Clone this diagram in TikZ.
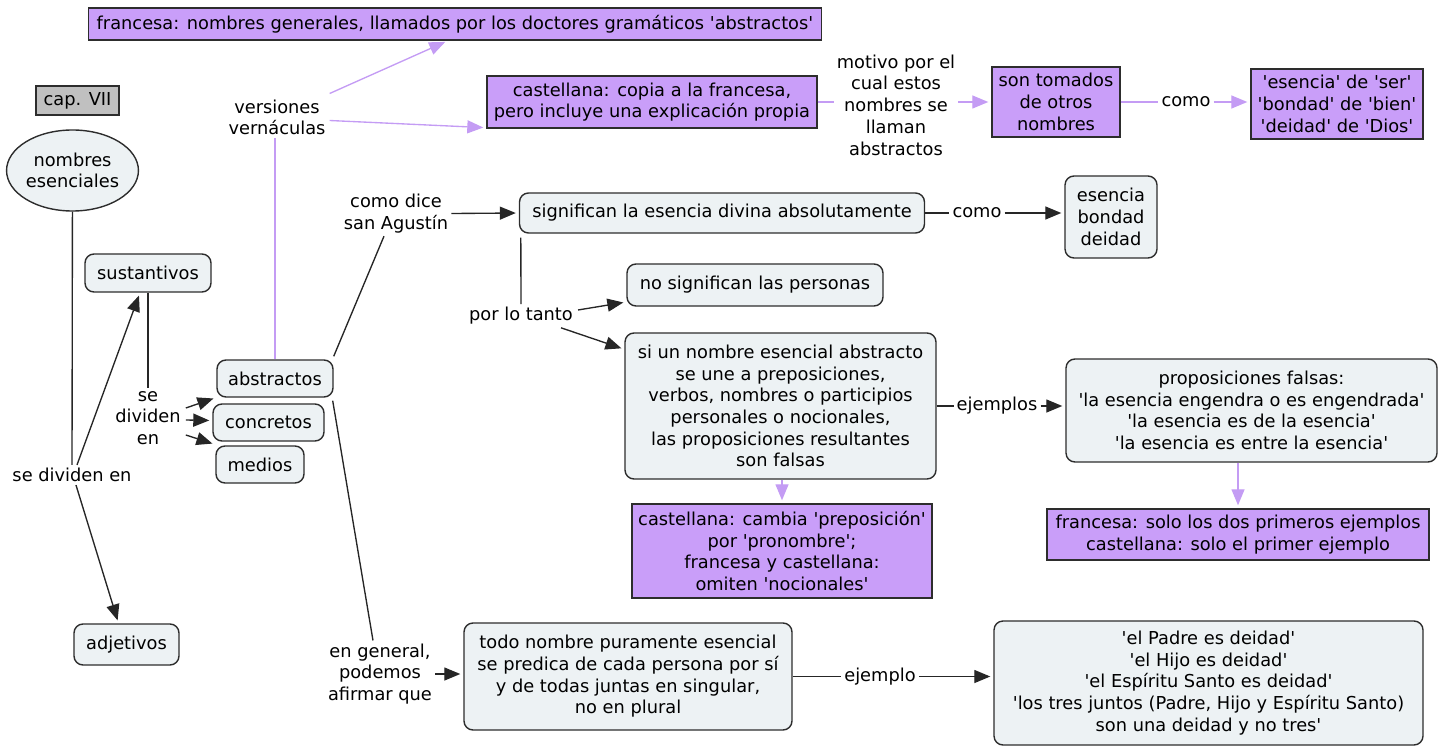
\documentclass[tikz,border=0pt]{standalone}
\usepackage{fontspec}
\setmainfont{DejaVu Sans}[Ligatures=TeXOff]
\usetikzlibrary{arrows.meta,shapes.geometric,calc}
\definecolor{lav}{RGB}{201,158,249}
\definecolor{lavline}{RGB}{196,156,244}
\definecolor{pale}{RGB}{237,242,244}
\definecolor{edge}{RGB}{45,45,45}
\definecolor{capgray}{RGB}{192,192,192}
\begin{document}
\begin{tikzpicture}[x=1pt,y=-1pt,
  font=\fontsize{17.8}{21.7}\selectfont,
  concept/.style={draw=edge, line width=1.4pt, fill=pale, rounded corners=9pt,
    align=center, inner xsep=4pt, inner ysep=2pt},
  vnote/.style={draw=edge, line width=1.4pt, fill=lav, align=center, inner xsep=4pt, inner ysep=2pt},
  link/.style={align=center, inner sep=3pt},
  conn/.style={line width=1.35pt, draw=black!85},
  arr/.style={conn, -{Triangle[length=16pt,width=13pt]}, shorten >=3pt},
  vconn/.style={line width=1.35pt, draw=lavline},
  varr/.style={vconn, -{Triangle[length=16pt,width=13pt]}, shorten >=3pt}]
\useasboundingbox (0,0) rectangle (1447,746);

% header and main concept
\node[vnote, anchor=west, minimum height=32pt, inner xsep=8pt] (fr) at (88,24)
  {francesa: nombres generales, llamados por los doctores gramáticos 'abstractos'};
\node[draw=edge, line width=1.4pt, fill=capgray, minimum width=83pt, minimum height=29pt, inner sep=0pt] (cap) at (77.5,100.5) {cap. VII};
\node[ellipse, draw=edge, line width=1.4pt, fill=pale, minimum width=131pt, minimum height=81pt, inner sep=0pt, align=center] (ne) at (72.5,170.5) {nombres\\esenciales};

% vernacular versions
\node[link] (vers) at (277,117.5) {versiones\\vernáculas};
\node[vnote, minimum width=330pt, minimum height=52pt] (cast) at (652,102) {castellana: copia a la francesa,\\pero incluye una explicación propia};
\node[link] (mot) at (896,105) {motivo por el\\cual estos\\nombres se\\llaman\\abstractos};
\node[vnote, minimum width=128pt, minimum height=70pt] (tom) at (1056,102) {son tomados\\de otros\\nombres};
\node[link] (como1) at (1186,102) {como};
\node[vnote, minimum width=172pt, minimum height=70pt] (ser) at (1337,104) {'esencia' de 'ser'\\'bondad' de 'bien'\\'deidad' de 'Dios'};

% divisions
\node[link] (sdiv) at (72,475) {se dividen en};
\node[concept, minimum width=126pt, minimum height=38pt] (sust) at (148,273) {sustantivos};
\node[link] (sdiv2) at (148,418) {se\\dividen\\en};
\node[concept, minimum width=116pt, minimum height=37pt] (abs) at (275,378.5) {abstractos};
\node[concept, minimum width=111pt, minimum height=37pt] (conc) at (268.5,422.5) {concretos};
\node[concept, minimum width=88pt, minimum height=37pt] (med) at (260,464.5) {medios};
\node[concept, minimum width=105pt, minimum height=41pt] (adj) at (126.5,644.5) {adjetivos};

% what the abstract names signify
\node[link] (agus) at (396,213.5) {como dice\\san Agustín};
\node[concept, minimum width=405pt, minimum height=40pt] (sig) at (722,213) {significan la esencia divina absolutamente};
\node[link] (como2) at (977,213) {como};
\node[concept, minimum width=92pt, minimum height=82pt] (ese) at (1111,217) {esencia\\bondad\\deidad};
\node[link] (plt) at (521,316) {por lo tanto};
\node[concept, minimum width=256pt, minimum height=42pt] (nosig) at (755,285) {no significan las personas};
\node[concept, minimum width=311pt, minimum height=146pt] (si) at (780.5,406)
  {si un nombre esencial abstracto\\se une a preposiciones,\\verbos, nombres o participios\\personales o nocionales,\\las proposiciones resultantes\\son falsas};
\node[link] (ejm) at (997,406) {ejemplos};
\node[concept, minimum width=371pt, minimum height=103pt] (prop) at (1251.5,410.5)
  {proposiciones falsas:\\'la esencia engendra o es engendrada'\\'la esencia es de la esencia'\\'la esencia es entre la esencia'};
\node[vnote, minimum width=382pt, minimum height=51pt] (frsolo) at (1238,534.5)
  {francesa: solo los dos primeros ejemplos\\castellana: solo el primer ejemplo};
\node[vnote, minimum width=300pt, minimum height=94pt] (cast2) at (782,551)
  {castellana: cambia 'preposición'\\por 'pronombre';\\francesa y castellana:\\omiten 'nocionales'};

% predication
\node[link] (engen) at (380,674) {en general,\\podemos\\afirmar que};
\node[concept, minimum width=328pt, minimum height=107pt] (todo) at (628,676.5)
  {todo nombre puramente esencial\\se predica de cada persona por sí\\y de todas juntas en singular,\\no en plural};
\node[link] (ejm2) at (880,676.5) {ejemplo};
\node[concept, minimum width=429pt, minimum height=124pt] (padre) at (1208.5,683)
  {'el Padre es deidad'\\'el Hijo es deidad'\\'el Espíritu Santo es deidad'\\'los tres juntos (Padre, Hijo y Espíritu Santo)\\son una deidad y no tres'};

% black connectors
\draw[conn] (ne) -- (sdiv);
\draw[arr] ($(sdiv.north)+(5,0)$) -- ($(sust.south)+(-8,0)$);
\draw[arr] ($(sdiv.south)+(4,0)$) -- ($(adj.north)+(-8,0)$);
\draw[conn] (sust) -- (sdiv2);
\draw[arr] ($(sdiv2.east)+(2,-10)$) -- ($(abs.west)+(0,19)$);
\draw[arr] ($(sdiv2.east)+(2,2)$) -- ($(conc.west)+(0,-2)$);
\draw[arr] ($(sdiv2.east)+(2,17)$) -- ($(med.west)+(0,-20)$);
\draw[conn] ($(abs.north east)+(0,-3)$) -- ($(agus.south)+(-12,0)$);
\draw[arr] (agus.east) -- (sig.west);
\draw[conn] (sig.east) -- (como2.west);
\draw[arr] (como2.east) -- (como2.east -| ese.west);
\draw[conn] ($(sig.south west)+(2,4)$) -- (plt.north);
\draw[arr] ($(plt.east)+(2,-6)$) -- ($(nosig.west)+(0,17)$);
\draw[arr] ($(plt.south east)+(-15,0)$) -- ($(si.north west)+(0,17)$);
\draw[conn] (si.east) -- (ejm.west);
\draw[arr] (ejm.east) -- (ejm.east -| prop.west);
\draw[conn] ($(abs.south east)+(-1,3)$) -- ($(engen.north)+(-7,0)$);
\draw[arr] (engen.east) -- (engen.east -| todo.west);
\draw[conn] (todo.east) -- (ejm2.west);
\draw[arr] (ejm2.east) -- (ejm2.east -| padre.west);

% lavender connectors
\draw[vconn] (abs.north) -- (abs.north |- vers.south);
\draw[varr] ($(vers.east)+(1,-24)$) -- ($(fr.south west)+(360,0)$);
\draw[varr] ($(vers.east)+(1,3)$) -- ($(cast.south west)+(0,-1)$);
\draw[vconn] (cast.east) -- (cast.east -| mot.west);
\draw[varr] (mot.east |- tom.west) -- (tom.west);
\draw[vconn] (tom.east) -- (tom.east -| como1.west);
\draw[varr] (como1.east) -- (como1.east -| ser.west);
\draw[varr] (si.south -| cast2.north) -- (cast2.north);
\draw[varr] (prop.south -| frsolo.north) -- (frsolo.north);
\end{tikzpicture}
\end{document}
